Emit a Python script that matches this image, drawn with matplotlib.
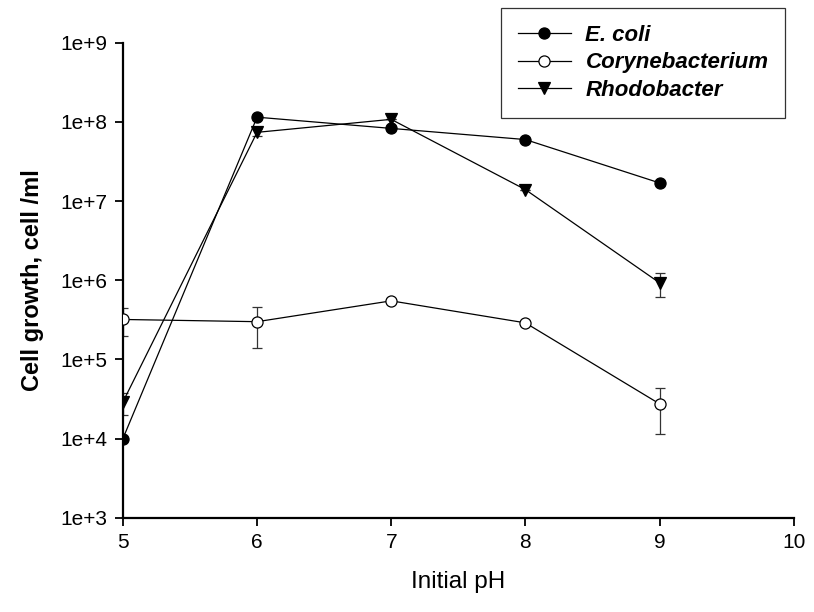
import numpy as np
import matplotlib.pyplot as plt

plt.rcParams['font.family'] = ['Liberation Sans', 'DejaVu Sans']

ph = [5, 6, 7, 8, 9]

ecoli = [1.0e4, 1.15e8, 8.3e7, 6.0e7, 1.7e7]
coryne = [3.2e5, 3.0e5, 5.5e5, 2.9e5, 2.75e4]
coryne_sd = [1.25e5, 1.6e5, 0, 0, 1.6e4]
rhodo = [2.9e4, 7.4e7, 1.08e8, 1.4e7, 9.3e5]
rhodo_sd = [0.9e4, 0.7e7, 0, 0, 3.2e5]

fig = plt.figure(figsize=(8.14, 6.12), dpi=100)
ax = fig.add_axes([0.151, 0.154, 0.824, 0.776])

line_kw = dict(color='black', lw=0.9, ms=8, mec='black', mew=0.9)
err_kw = dict(fmt='none', ecolor='#333333', elinewidth=0.9, capsize=3.6, capthick=0.9)

ax.errorbar(ph, coryne, yerr=coryne_sd, **err_kw)
ax.errorbar(ph, rhodo, yerr=rhodo_sd, **err_kw)

ax.plot(ph, ecoli, marker='o', mfc='black', label='E. coli', zorder=3, **line_kw)
ax.plot(ph, coryne, marker='o', mfc='white', label='Corynebacterium', zorder=3, **line_kw)
ax.plot(ph, rhodo, marker='v', mfc='black', label='Rhodobacter', zorder=3, **line_kw)

ax.set_yscale('log')
ax.set_ylim(1e3, 1e9)
ax.set_xlim(5, 10)
ax.set_xticks([5, 6, 7, 8, 9, 10])
ax.set_yticks([10.0 ** k for k in range(3, 10)])
ax.set_yticklabels(['1e+%d' % k for k in range(3, 10)])
ax.yaxis.set_minor_locator(plt.NullLocator())

for side in ['top', 'right']:
    ax.spines[side].set_visible(False)
for side in ['left', 'bottom']:
    ax.spines[side].set_linewidth(1.6)
ax.tick_params(axis='both', direction='out', length=6, width=1.3, labelsize=15, pad=5)

ax.set_xlabel('Initial pH', fontsize=17.5, labelpad=14)
ax.set_ylabel('Cell growth, cell /ml', fontsize=17, fontweight='bold', labelpad=12)

leg = fig.legend(loc='upper left', bbox_to_anchor=(0.6155, 0.987), frameon=True,
                 fancybox=False, edgecolor='black', handlelength=2.4,
                 prop={'style': 'italic', 'weight': 'bold', 'size': 16},
                 borderpad=0.75, labelspacing=0.3, handletextpad=0.65,
                 borderaxespad=0)
leg.get_frame().set_linewidth(0.9)

fig.savefig('out.png', dpi=100)
